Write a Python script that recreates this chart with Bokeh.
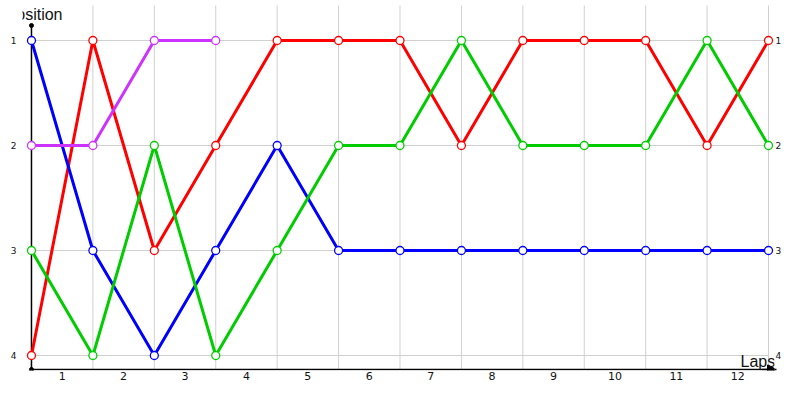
from bokeh.plotting import figure
from bokeh.models import (Range1d, LinearAxis, FixedTicker, Label, Arrow,
                          NormalHead, ColumnDataSource)
from bokeh.embed import file_html
from bokeh.resources import INLINE

# ---------------- data ----------------
laps = ["1", "2", "3", "4", "5", "6", "7", "8", "9", "10", "11", "12"]
positions = [1, 2, 3, 4]
boundaries = list(range(0, 13))          # lap boundaries 0..12

red_pos = [4, 1, 3, 2, 1, 1, 1, 2, 1, 1, 1, 2, 1]
blue_pos = [1, 3, 4, 3, 2, 3, 3, 3, 3, 3, 3, 3, 3]
green_pos = [3, 4, 2, 4, 3, 2, 2, 1, 2, 2, 2, 1, 2]
purple_pos = [2, 2, 1, 1]

series_names = ["red", "blue", "green", "purple"]
series_values = [red_pos, blue_pos, green_pos, purple_pos]
series_colors = ["#ff0000", "#0000ff", "#00cc00", "#cc33ff"]

# ---------------- figure ----------------
X0, X1 = -0.14615, 12.0975
Y_BOTTOM, Y_TOP = 4.1429, 0.619
AXIS_Y = 4.1333
GRID_TOP = 0.6667
AXIS_TOP = 0.857

p = figure(width=784, height=384, output_backend="svg", toolbar_location=None,
           x_range=Range1d(X0, X1), y_range=Range1d(Y_BOTTOM, Y_TOP),
           x_axis_type=None, y_axis_type=None,
           min_border_left=22, min_border_right=8,
           min_border_top=0, min_border_bottom=14,
           background_fill_color="white", border_fill_color="white",
           outline_line_color=None)
p.xgrid.visible = False
p.ygrid.visible = False

def style_axis(ax, size, standoff):
    ax.axis_line_color = None
    ax.major_tick_line_color = None
    ax.minor_tick_line_color = None
    ax.major_tick_out = 0
    ax.major_tick_in = 0
    ax.major_label_text_font = "DejaVu Sans"
    ax.major_label_text_font_size = size
    ax.major_label_text_color = "#111111"
    ax.major_label_standoff = standoff

left = LinearAxis(ticker=FixedTicker(ticks=positions))
style_axis(left, "9px", 6)
p.add_layout(left, "left")

right = LinearAxis(ticker=FixedTicker(ticks=positions))
style_axis(right, "9px", 1)
p.add_layout(right, "right")

lap_ticks = [b + 0.5 for b in boundaries[:-1]]
bottom = LinearAxis(ticker=FixedTicker(ticks=lap_ticks),
                    major_label_overrides={t: l for t, l in zip(lap_ticks, laps)})
style_axis(bottom, "11px", 1)
p.add_layout(bottom, "below")

# ---------------- grid ----------------
grid_color = "#d0d0d0"
p.segment(x0=boundaries[1:], y0=[GRID_TOP] * 12, x1=boundaries[1:], y1=[AXIS_Y] * 12,
          line_color=grid_color, line_width=1)
p.segment(x0=[boundaries[0]] * 4, y0=positions, x1=[boundaries[-1]] * 4, y1=positions,
          line_color=grid_color, line_width=1)

# ---------------- axes lines ----------------
p.segment(x0=[0], y0=[AXIS_TOP], x1=[0], y1=[AXIS_Y], line_color="black", line_width=1.5)
p.segment(x0=[0], y0=[AXIS_Y], x1=[12.0], y1=[AXIS_Y], line_color="black", line_width=1.5)
p.scatter(x=[0, 0], y=[AXIS_TOP, AXIS_Y], size=4, fill_color="black", line_color="black")
p.add_layout(Arrow(x_start=11.9, y_start=AXIS_Y, x_end=12.13, y_end=AXIS_Y,
                   line_width=1.5, line_color="black",
                   end=NormalHead(size=9, fill_color="black", line_color="black",
                                  line_width=1)))

# ---------------- series ----------------
for name, vals, col in zip(series_names, series_values, series_colors):
    src = ColumnDataSource(dict(x=boundaries[:len(vals)], y=vals))
    p.line("x", "y", source=src, line_color=col, line_width=3)
    p.scatter("x", "y", source=src, size=8, fill_color="white",
              line_color=col, line_width=1.3)

# ---------------- titles ----------------
p.add_layout(Label(x=-0.422, y=0.676, text="Position", text_font="Liberation Sans",
                   text_font_size="16px", text_color="#111111",
                   text_align="left", text_baseline="top"))
p.add_layout(Label(x=11.545, y=4.057, text="Laps", text_font="Liberation Sans",
                   text_font_size="16px", text_color="#111111",
                   text_align="left", text_baseline="alphabetic"))

open("out.html", "w").write(file_html(p, INLINE))
